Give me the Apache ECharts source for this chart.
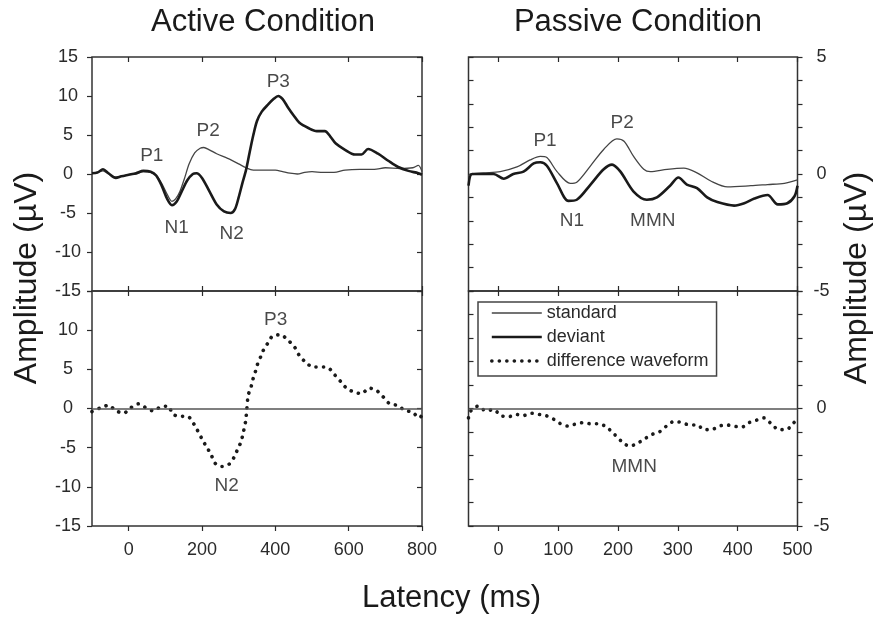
<!DOCTYPE html>
<html>
<head>
<meta charset="utf-8">
<title>ERP waveforms</title>
<script src="https://cdn.jsdelivr.net/npm/echarts@6/dist/echarts.min.js"></script>
<style>
  html, body { margin: 0; padding: 0; background: #fff; }
  #main { width: 877px; height: 622px; }
</style>
</head>
<body>
<div id="main"></div>
<script>
// [latency ms, amplitude uV]
var activeStandard = [[-100,0.1],[-85,0.2],[-70,0.4],[-55,0],[-35,-0.4],[-20,-0.3],[0,-0.1],[20,0],[40,0.3],[60,0.2],[75,-0.2],[90,-1.2],[105,-2.6],[118,-3.5],[128,-3.2],[140,-2.2],[152,-0.6],[165,1.3],[180,2.7],[195,3.3],[205,3.4],[220,3.1],[240,2.6],[270,2.0],[300,1.3],[320,0.8],[340,0.5],[370,0.5],[400,0.5],[420,0.3],[440,0.1],[460,0.0],[480,0.2],[500,0.3],[530,0.2],[560,0.2],[590,0.5],[630,0.6],[670,0.6],[700,0.8],[740,0.7],[775,0.8],[790,1.1],[800,0.3]];
var activeDeviant = [[-100,0.1],[-85,0.2],[-70,0.6],[-55,0.1],[-35,-0.5],[-20,-0.3],[0,-0.1],[20,0.1],[40,0.4],[60,0.3],[75,-0.2],[90,-1.5],[105,-3.2],[118,-4.0],[130,-3.6],[145,-2.2],[160,-0.8],[175,0],[185,0.1],[200,-0.5],[220,-2.2],[240,-3.9],[260,-4.8],[278,-5.0],[290,-4.5],[300,-3.0],[310,-1.2],[320,0.5],[330,2.8],[340,5.0],[350,6.8],[363,8.0],[380,8.9],[395,9.6],[408,10.0],[420,9.6],[435,8.5],[450,7.5],[465,6.6],[490,5.9],[513,5.5],[535,5.5],[550,4.8],[565,3.9],[590,3.1],[617,2.5],[635,2.5],[653,3.2],[680,2.6],[708,1.7],[735,0.9],[763,0.4],[790,0.1],[800,-0.1]];
var activeDiff = [[-100,-0.4],[-76,0.1],[-55,0.4],[-34,-0.3],[-14,-0.6],[6,0.1],[27,0.6],[47,0.1],[67,-0.3],[87,0.2],[108,0.3],[120,-0.7],[140,-1.0],[160,-1.0],[178,-2.0],[199,-3.8],[211,-4.8],[224,-5.8],[236,-7.0],[254,-7.4],[274,-7.1],[289,-6.1],[297,-5.2],[306,-4.3],[312,-3.2],[319,-1.6],[322,-0.2],[326,1.7],[333,2.6],[338,3.6],[345,4.6],[351,5.6],[360,6.6],[367,7.4],[379,8.3],[394,9.3],[414,9.4],[435,8.7],[453,7.8],[465,6.8],[483,5.9],[503,5.3],[524,5.3],[544,5.2],[560,4.4],[579,3.4],[594,2.6],[614,2.1],[635,1.9],[656,2.6],[676,2.3],[694,1.5],[712,0.6],[732,0.4],[753,-0.2],[774,-0.5],[794,-1.2],[800,-0.7]];

var passiveStandard = [[-50,-0.1],[-47,0],[-25,0.05],[3,0.1],[31,0.3],[53,0.6],[70,0.75],[81,0.7],[98,0.1],[120,-0.4],[131,-0.35],[154,0.35],[176,1.05],[198,1.5],[210,1.4],[226,0.75],[243,0.2],[254,0.1],[282,0.2],[310,0.25],[332,0.05],[355,-0.3],[383,-0.55],[422,-0.5],[450,-0.45],[478,-0.4],[500,-0.25]];
var passiveDeviant = [[-50,-0.5],[-44,0],[-25,0],[-8,0],[9,-0.2],[25,0],[42,0.1],[59,0.45],[70,0.5],[81,0.35],[98,-0.4],[117,-1.15],[131,-1.1],[154,-0.45],[176,0.2],[190,0.4],[204,0.1],[226,-0.75],[248,-1.1],[265,-1.0],[287,-0.5],[301,-0.15],[315,-0.45],[332,-0.6],[349,-1.0],[366,-1.2],[394,-1.35],[411,-1.25],[428,-1.05],[450,-0.9],[467,-1.3],[483,-1.25],[495,-0.95],[500,-0.5]];
var passiveDiff = [[-50,-0.4],[-46,-0.1],[-34,0.1],[-21,-0.1],[-8,-0.05],[4,-0.3],[17,-0.35],[29,-0.25],[42,-0.3],[54,-0.2],[67,-0.25],[79,-0.3],[92,-0.45],[104,-0.65],[117,-0.75],[130,-0.65],[142,-0.6],[155,-0.65],[168,-0.65],[181,-0.8],[194,-1.1],[206,-1.4],[219,-1.6],[231,-1.5],[244,-1.3],[257,-1.1],[269,-1.0],[281,-0.75],[294,-0.55],[307,-0.6],[319,-0.7],[332,-0.7],[344,-0.9],[356,-0.9],[369,-0.75],[381,-0.7],[394,-0.75],[406,-0.8],[419,-0.6],[431,-0.5],[444,-0.4],[456,-0.65],[469,-0.9],[481,-0.9],[494,-0.6],[500,-0.45]];

// peak labels: [text, latency, amplitude]
var activeTopLabels = [['P1',63,2.3],['N1',131,-6.9],['P2',217,5.5],['N2',281,-7.6],['P3',408,11.8]];
var activeDiffLabels = [['P3',401,11.3],['N2',267,-9.9]];
var passiveTopLabels = [['P1',78,1.4],['N1',123,-2.0],['P2',207,2.2],['MMN',258,-2.0]];
var passiveDiffLabels = [['MMN',227,-2.5]];

var activeTicks = [0,200,400,600,800];
var passiveTicks = [0,100,200,300,400,500];
var legendNames = ['standard','deviant','difference waveform'];

var FONT = 'Liberation Sans, Arial, sans-serif';
var INK = '#2a2a2a';

var chart = echarts.init(document.getElementById('main'));

function xAx(grid, min, max, ticks, pos, showLabel, inside) {
  return {
    type: 'value', gridIndex: grid, min: min, max: max, position: pos,
    axisLine: { show: false, onZero: false },
    splitLine: { show: false },
    axisTick: { show: true, inside: inside, length: 5, customValues: ticks, lineStyle: { color: INK, width: 1.2 } },
    axisLabel: { show: showLabel, customValues: ticks, margin: 15, fontSize: 18, color: INK, fontFamily: FONT }
  };
}
function yAx(grid, min, max, interval, pos, labels, inside) {
  return {
    type: 'value', gridIndex: grid, min: min, max: max, interval: interval, position: pos,
    axisLine: { show: false, onZero: false },
    splitLine: { show: false },
    axisTick: { show: true, inside: inside, length: 5, lineStyle: { color: INK, width: 1.2 } },
    axisLabel: labels ? { show: true, customValues: labels, align: 'center', margin: 24, fontSize: 18, color: INK, fontFamily: FONT } : { show: false }
  };
}
function noteSeries(list, xi, yi) {
  return {
    type: 'scatter', xAxisIndex: xi, yAxisIndex: yi, symbolSize: 1, silent: true,
    itemStyle: { color: 'rgba(0,0,0,0)' },
    label: { show: true, position: 'inside', formatter: '{b}', fontSize: 19, color: '#1a1a1a', fontFamily: FONT },
    data: list.map(function (d) { return { name: d[0], value: [d[1], d[2]] }; })
  };
}
function wave(name, data, xi, yi) {
  var s = { type: 'line', name: name, data: data, xAxisIndex: xi, yAxisIndex: yi, symbol: 'none', smooth: 0.3, silent: true,
    itemStyle: { color: '#222' } };
  if (name === 'standard') s.lineStyle = { color: '#444', width: 1.3 };
  else if (name === 'deviant') s.lineStyle = { color: '#1a1a1a', width: 2.6 };
  else {
    s.lineStyle = { color: '#1a1a1a', width: 3.6, type: [0.1, 7.4], cap: 'round' };
    s.markLine = { silent: true, symbol: ['none','none'], label: { show: false },
      lineStyle: { color: '#555', width: 1.6, type: 'solid' }, data: [{ yAxis: 0 }] };
  }
  return s;
}

var gridStyle = { show: true, borderColor: '#333', borderWidth: 1.5, backgroundColor: 'transparent' };

var option = {
  animation: false,
  backgroundColor: '#fff',
  title: [
    { text: 'Active Condition', left: 258, top: 2, textAlign: 'center', textStyle: { fontSize: 31, fontWeight: 'normal', color: '#1a1a1a', fontFamily: FONT } },
    { text: 'Passive Condition', left: 633, top: 2, textAlign: 'center', textStyle: { fontSize: 31, fontWeight: 'normal', color: '#1a1a1a', fontFamily: FONT } }
  ],
  grid: [
    Object.assign({ left: 92, top: 57, width: 330, height: 234 }, gridStyle),
    Object.assign({ left: 92, top: 291, width: 330, height: 235 }, gridStyle),
    Object.assign({ left: 468.5, top: 57, width: 329, height: 234 }, gridStyle),
    Object.assign({ left: 468.5, top: 291, width: 329, height: 235 }, gridStyle)
  ],
  xAxis: [
    xAx(0, -100, 800, activeTicks, 'bottom', false, true),
    xAx(0, -100, 800, activeTicks, 'top', false, true),
    xAx(1, -100, 800, activeTicks, 'bottom', true, false),
    xAx(1, -100, 800, activeTicks, 'top', false, true),
    xAx(2, -50, 500, passiveTicks, 'bottom', false, true),
    xAx(2, -50, 500, passiveTicks, 'top', false, true),
    xAx(3, -50, 500, passiveTicks, 'bottom', true, false),
    xAx(3, -50, 500, passiveTicks, 'top', false, true)
  ],
  yAxis: [
    yAx(0, -15, 15, 5, 'left', [-15,-10,-5,0,5,10,15], false),
    yAx(0, -15, 15, 5, 'right', null, true),
    yAx(1, -15, 15, 5, 'left', [-15,-10,-5,0,5,10], false),
    yAx(1, -15, 15, 5, 'right', null, true),
    yAx(2, -5, 5, 1, 'left', null, true),
    yAx(2, -5, 5, 1, 'right', [-5,0,5], false),
    yAx(3, -5, 5, 1, 'left', null, true),
    yAx(3, -5, 5, 1, 'right', [-5,0], false)
  ],
  legend: {
    data: legendNames, orient: 'vertical', left: 478, top: 302,
    itemWidth: 50, itemHeight: 14, itemGap: 6,
    padding: [2, 8, 6, 12],
    borderColor: '#444', borderWidth: 1.5,
    selectedMode: false,
    lineStyle: { width: 'inherit' },
    itemStyle: { color: 'rgba(0,0,0,0)', borderWidth: 0 },
    textStyle: { fontSize: 18, lineHeight: 18, color: INK, fontFamily: FONT }
  },
  graphic: [
    { type: 'text', left: 362, top: 583, style: { text: 'Latency (ms)', font: '31px ' + FONT, fill: '#1a1a1a' } },
    { type: 'text', x: 11, y: 278, rotation: Math.PI / 2, style: { text: 'Amplitude (\u00b5V)', font: '32px ' + FONT, fill: '#1a1a1a', align: 'center', verticalAlign: 'top' } },
    { type: 'text', x: 841, y: 278, rotation: Math.PI / 2, style: { text: 'Amplitude (\u00b5V)', font: '32px ' + FONT, fill: '#1a1a1a', align: 'center', verticalAlign: 'top' } }
  ],
  series: [
    wave('standard', activeStandard, 0, 0),
    wave('deviant', activeDeviant, 0, 0),
    wave('difference waveform', activeDiff, 2, 2),
    wave('standard', passiveStandard, 4, 4),
    wave('deviant', passiveDeviant, 4, 4),
    wave('difference waveform', passiveDiff, 6, 6),
    noteSeries(activeTopLabels, 0, 0),
    noteSeries(activeDiffLabels, 2, 2),
    noteSeries(passiveTopLabels, 4, 4),
    noteSeries(passiveDiffLabels, 6, 6)
  ]
};
chart.setOption(option);
</script>
</body>
</html>
